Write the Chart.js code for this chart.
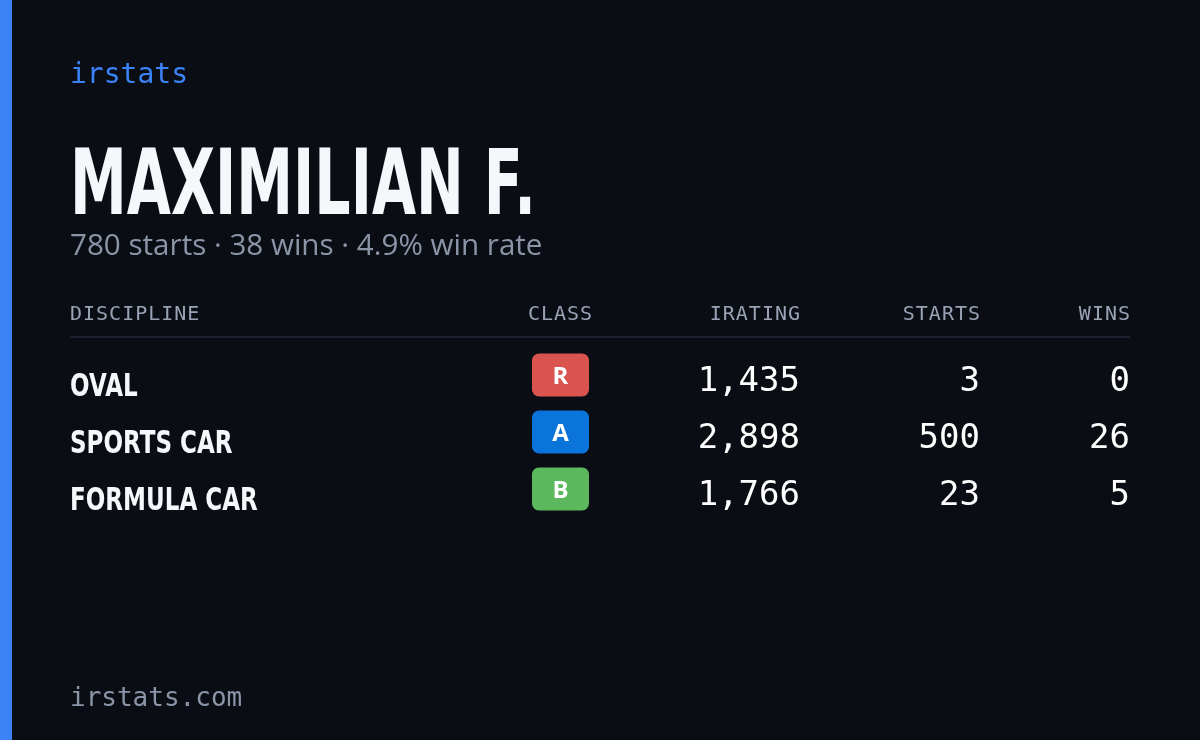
<!DOCTYPE html>
<html lang="en">
<head>
<meta charset="utf-8">
<script src="https://cdn.jsdelivr.net/npm/chart.js@4"></script>
<style>
  html, body { margin: 0; padding: 0; background: #0a0d14; }
  #wrap { position: relative; width: 1200px; height: 740px; border-left: 12px solid #3b82f6; box-sizing: border-box; }
</style>
</head>
<body>
<div id="wrap"><canvas id="card" width="1188" height="740"></canvas></div>
<script>
const disciplines = ['OVAL', 'SPORTS CAR', 'FORMULA CAR'];
const classes = ['R', 'A', 'B'];
const classColors = { R: '#d9534f', A: '#0a74da', B: '#5cb85c' };
const iratings = [1435, 2898, 1766];
const starts = [3, 500, 23];
const wins = [0, 26, 5];
const headers = ['DISCIPLINE', 'CLASS', 'IRATING', 'STARTS', 'WINS'];

const OX = -12; // canvas is shifted by the stripe
const mono = '"DejaVu Sans Mono", monospace';
const sans = '"DejaVu Sans", sans-serif';

function spaced(ctx, text, x, y, sp, align) {
  let w = 0;
  for (const ch of text) w += ctx.measureText(ch).width + sp;
  w -= sp;
  let cx = align === 'right' ? x - w : align === 'center' ? x - w / 2 : x;
  ctx.textAlign = 'left';
  for (const ch of text) { ctx.fillText(ch, cx, y); cx += ctx.measureText(ch).width + sp; }
}

// squeezed text to fake a condensed face
function narrow(ctx, text, x, y, sx) {
  ctx.save();
  ctx.translate(x, y);
  ctx.scale(sx, 1);
  ctx.textAlign = 'left';
  ctx.fillText(text, 0, 0);
  ctx.restore();
}

function roundRect(ctx, x, y, w, h, r) {
  ctx.beginPath();
  ctx.moveTo(x + r, y);
  ctx.arcTo(x + w, y, x + w, y + h, r);
  ctx.arcTo(x + w, y + h, x, y + h, r);
  ctx.arcTo(x, y + h, x, y, r);
  ctx.arcTo(x, y, x + w, y, r);
  ctx.closePath();
}

const tablePlugin = {
  id: 'table',
  afterDraw(chart) {
    const ctx = chart.ctx;
    const ys = chart.scales.y;
    ctx.save();
    ctx.textBaseline = 'alphabetic';

    ctx.fillStyle = '#3b82f6';
    ctx.font = '28px ' + mono;
    ctx.fillText('irstats', 70 + OX, 83);

    ctx.fillStyle = '#f5f7fb';
    ctx.font = 'bold 90px ' + sans;
    const tw = ctx.measureText('MAXIMILIAN F.').width;
    narrow(ctx, 'MAXIMILIAN F.', 70 + OX, 214, 466 / tw);

    ctx.fillStyle = '#8b95a7';
    ctx.font = '29.6px "Open Sans", sans-serif';
    ctx.fillText('780 starts · 38 wins · 4.9% win rate', 70 + OX, 255);

    ctx.fillStyle = '#9aa3b5';
    ctx.font = '20px ' + mono;
    spaced(ctx, headers[0], 70 + OX, 320, 1, 'left');
    spaced(ctx, headers[1], 560 + OX, 320, 1, 'center');
    spaced(ctx, headers[2], 800 + OX, 320, 1, 'right');
    spaced(ctx, headers[3], 980 + OX, 320, 1, 'right');
    spaced(ctx, headers[4], 1130 + OX, 320, 1, 'right');

    ctx.strokeStyle = '#1c2230';
    ctx.lineWidth = 2;
    ctx.beginPath(); ctx.moveTo(70 + OX, 337); ctx.lineTo(1130 + OX, 337); ctx.stroke();

    disciplines.forEach((d, i) => {
      const y = ys.getPixelForValue(i);
      ctx.fillStyle = '#f5f7fb';
      ctx.font = 'bold 32px ' + sans;
      narrow(ctx, d, 70 + OX, y + 16, 0.72);

      const c = classes[i];
      ctx.fillStyle = classColors[c];
      roundRect(ctx, 532 + OX, y - 26, 57, 43, 7);
      ctx.fill();
      ctx.fillStyle = '#ffffff';
      ctx.font = 'bold 24px "Open Sans", sans-serif';
      ctx.textAlign = 'center';
      ctx.fillText(c, 560.5 + OX, y + 4);

      ctx.font = '500 34px ' + mono;
      ctx.textAlign = 'right';
      ctx.fillText(iratings[i].toLocaleString('en-US'), 800 + OX, y + 11);
      ctx.fillText(String(starts[i]), 980 + OX, y + 11);
      ctx.fillText(String(wins[i]), 1130 + OX, y + 11);
    });

    ctx.fillStyle = '#8b95a7';
    ctx.font = '26px ' + mono;
    ctx.textAlign = 'left';
    ctx.fillText('irstats.com', 70 + OX, 706);
    ctx.restore();
  }
};

new Chart(document.getElementById('card'), {
  type: 'bar',
  data: { labels: disciplines, datasets: [{ data: iratings.map(() => 0), backgroundColor: 'transparent' }] },
  options: {
    indexAxis: 'y',
    responsive: false,
    animation: false,
    layout: { padding: { top: 351, bottom: 218, left: 0, right: 0 } },
    plugins: { legend: { display: false }, tooltip: { enabled: false } },
    scales: {
      x: { display: false },
      y: { display: false, offset: true }
    }
  },
  plugins: [tablePlugin]
});
</script>
</body>
</html>
